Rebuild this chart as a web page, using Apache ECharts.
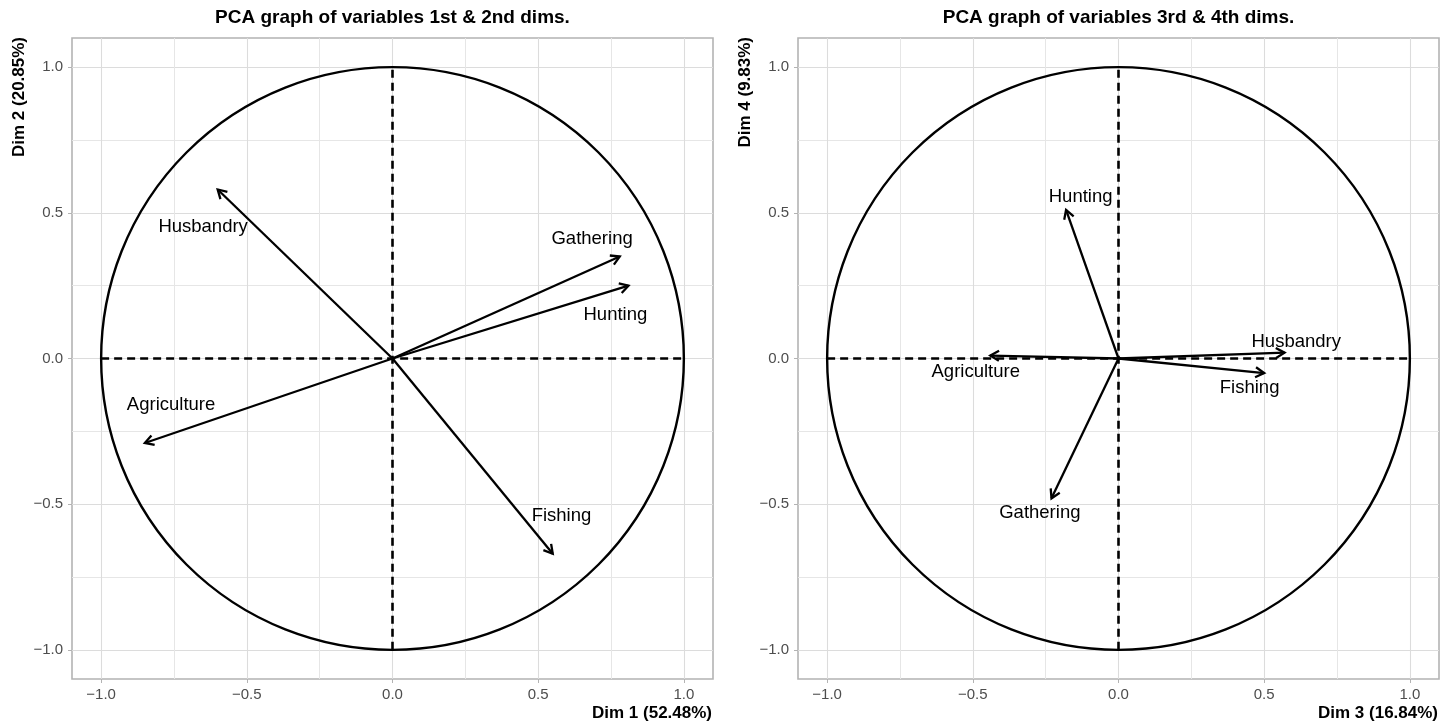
<!DOCTYPE html>
<html>
<head>
<meta charset="utf-8">
<title>PCA graph of variables</title>
<script src="https://cdn.jsdelivr.net/npm/echarts@6/dist/echarts.min.js"></script>
<style>
    html, body { margin: 0; padding: 0; background: #fff; }
    #chart { width: 1455px; height: 723px; }
</style>
</head>
<body>
<div id="chart"></div>
<script>
var variables = ['Agriculture', 'Husbandry', 'Fishing', 'Hunting', 'Gathering'];

// coordinates of the variables (correlations with the dims)
var dim1 = [-0.85, -0.60, 0.55, 0.81, 0.78];
var dim2 = [-0.29, 0.58, -0.67, 0.25, 0.35];
var dim3 = [-0.44, 0.57, 0.50, -0.18, -0.23];
var dim4 = [0.01, 0.02, -0.05, 0.51, -0.48];

// where the text labels sit (repelled away from the arrow tips)
var label12x = [-0.76, -0.65, 0.58, 0.765, 0.685];
var label12y = [-0.16, 0.45, -0.54, 0.15, 0.41];
var label34x = [-0.49, 0.61, 0.45, -0.13, -0.27];
var label34y = [-0.045, 0.058, -0.10, 0.555, -0.53];

var dimNames = ['Dim 1 (52.48%)', 'Dim 2 (20.85%)', 'Dim 3 (16.84%)', 'Dim 4 (9.83%)'];
var titles = ['PCA graph of variables 1st & 2nd dims.', 'PCA graph of variables 3rd & 4th dims.'];
var tickValues = [-1, -0.5, 0, 0.5, 1];
var minorValues = [-0.75, -0.25, 0.25, 0.75];

var FONT = '"Liberation Sans", Arial, Helvetica, sans-serif';
var grids = [
    { left: 72, top: 38, width: 641, height: 641 },
    { left: 798, top: 38, width: 641, height: 641 }
];

function fmtTick(v) {
    return v.toFixed(1).replace('-', '\u2212');
}

function makeAxes(g, isX) {
    // axis carrying labels, ticks and the major grid lines
    var main = {
        type: 'value', gridIndex: g, min: -1.1, max: 1.1,
        position: isX ? 'bottom' : 'left',
        axisLine: { show: false, onZero: false },
        axisTick: { show: true, customValues: tickValues, length: 4, lineStyle: { color: '#b3b3b3', width: 1 } },
        axisLabel: {
            customValues: tickValues, formatter: fmtTick, margin: isX ? 8 : 9,
            color: '#4d4d4d', fontSize: 15, fontFamily: FONT
        },
        splitLine: { show: true, lineStyle: { color: '#dcdcdc', width: 1.1 } }
    };
    // hidden axis only for the minor grid lines
    var minor = {
        type: 'value', gridIndex: g, min: -1.1, max: 1.1,
        position: isX ? 'top' : 'right',
        axisLine: { show: false, onZero: false },
        axisTick: { show: false, customValues: minorValues },
        axisLabel: { show: false },
        splitLine: { show: true, lineStyle: { color: '#e6e6e6', width: 1 } }
    };
    return [main, minor];
}

function circleItem(params, api) {
    var c = api.coord([api.value(0), api.value(1)]);
    var r = api.size([api.value(2), api.value(2)]);
    return {
        type: 'circle',
        shape: { cx: c[0], cy: c[1], r: r[0] },
        style: { stroke: '#000', fill: null, lineWidth: 2.4 }
    };
}

function arrowItem(params, api) {
    var o = api.coord([0, 0]);
    var t = api.coord([api.value(0), api.value(1)]);
    var l = api.coord([api.value(2), api.value(3)]);
    var ang = Math.atan2(t[1] - o[1], t[0] - o[0]);
    var len = 10, spread = Math.PI / 6;
    var a1 = [t[0] - len * Math.cos(ang - spread), t[1] - len * Math.sin(ang - spread)];
    var a2 = [t[0] - len * Math.cos(ang + spread), t[1] - len * Math.sin(ang + spread)];
    return {
        type: 'group',
        children: [
            { type: 'line', shape: { x1: o[0], y1: o[1], x2: t[0], y2: t[1] }, style: { stroke: '#000', lineWidth: 2.3 } },
            { type: 'polyline', shape: { points: [a1, t, a2] }, style: { stroke: '#000', fill: null, lineWidth: 2.3 } },
            {
                type: 'text', x: l[0], y: l[1],
                style: {
                    text: variables[params.dataIndex], fill: '#000',
                    font: '18.5px ' + FONT, align: 'center', verticalAlign: 'middle',
                    textAlign: 'center', textVerticalAlign: 'middle'
                }
            }
        ]
    };
}

function panelSeries(g, xs, ys, lx, ly) {
    var ax = g * 2;
    var arrows = [];
    for (let i = 0; i < variables.length; i++) {
        arrows.push([xs[i], ys[i], lx[i], ly[i]]);
    }
    var dashed = { type: [8, 5], width: 2.6, color: '#000' };
    return [
        {
            type: 'custom', xAxisIndex: ax, yAxisIndex: ax, silent: true,
            renderItem: circleItem, data: [[0, 0, 1]]
        },
        {
            type: 'line', xAxisIndex: ax, yAxisIndex: ax, silent: true, symbol: 'none',
            lineStyle: dashed, data: [[-1, 0], [1, 0]], z: 3
        },
        {
            type: 'line', xAxisIndex: ax, yAxisIndex: ax, silent: true, symbol: 'none',
            lineStyle: dashed, data: [[0, -1], [0, 1]], z: 3
        },
        {
            type: 'custom', xAxisIndex: ax, yAxisIndex: ax, silent: true,
            renderItem: arrowItem, data: arrows, z: 4
        }
    ];
}

function textEl(text, x, y, opts) {
    return {
        type: 'text', x: x, y: y, rotation: opts.rotation || 0,
        style: {
            text: text, fill: '#000', font: opts.font,
            align: opts.align, verticalAlign: 'middle',
            textAlign: opts.align, textVerticalAlign: 'middle'
        }
    };
}

var xAxes = [], yAxes = [];
for (let g = 0; g < 2; g++) {
    xAxes = xAxes.concat(makeAxes(g, true));
    yAxes = yAxes.concat(makeAxes(g, false));
}

var graphics = [];
for (let g = 0; g < 2; g++) {
    var gr = grids[g];
    graphics.push(textEl(titles[g], gr.left + gr.width / 2, 18, { font: 'bold 19px ' + FONT, align: 'center' }));
    graphics.push(textEl(dimNames[g * 2], gr.left + gr.width - 1, 713, { font: 'bold 17px ' + FONT, align: 'right' }));
    graphics.push(textEl(dimNames[g * 2 + 1], gr.left - 53, gr.top - 1, { font: 'bold 17px ' + FONT, align: 'right', rotation: Math.PI / 2 }));
}

var option = {
    animation: false,
    backgroundColor: '#fff',
    grid: grids.map(function (gr) {
        return {
            left: gr.left, top: gr.top, width: gr.width, height: gr.height,
            show: true, borderColor: '#b3b3b3', borderWidth: 1.6, backgroundColor: 'transparent'
        };
    }),
    xAxis: xAxes,
    yAxis: yAxes,
    series: panelSeries(0, dim1, dim2, label12x, label12y)
        .concat(panelSeries(1, dim3, dim4, label34x, label34y)),
    graphic: graphics
};

var myChart = echarts.init(document.getElementById('chart'));
myChart.setOption(option);
</script>
</body>
</html>
